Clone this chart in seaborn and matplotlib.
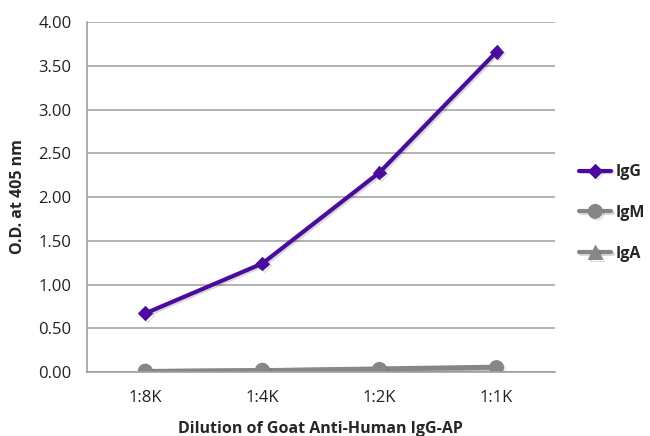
import matplotlib
matplotlib.use("Agg")
import matplotlib.pyplot as plt
import matplotlib.patheffects as pe
import seaborn as sns
import pandas as pd
import numpy as np

dilutions = ["1:8K", "1:4K", "1:2K", "1:1K"]
igg = [0.67, 1.24, 2.28, 3.66]
igm = [0.01, 0.02, 0.03, 0.05]
iga = [0.01, 0.02, 0.04, 0.06]
series_names = ["IgG", "IgM", "IgA"]
y_ticks = [0.0, 0.5, 1.0, 1.5, 2.0, 2.5, 3.0, 3.5, 4.0]

rows = []
for name, vals in zip(series_names, [igg, igm, iga]):
    for i, (d, v) in enumerate(zip(dilutions, vals)):
        rows.append({"Dilution": d, "pos": i, "OD": v, "Series": name})
df = pd.DataFrame(rows)

sns.set_style("white")
plt.rcParams["font.family"] = ["Open Sans", "DejaVu Sans"]

fig = plt.figure(figsize=(6.5, 4.36), dpi=100)
ax = fig.add_axes([0.1334, 0.1468, 0.854 - 0.1334, 0.9495 - 0.1468])

palette = {"IgG": "#4B0C9E", "IgM": "#868686", "IgA": "#868686"}
markers = {"IgG": "D", "IgM": "o", "IgA": "^"}
sizes_ = {"IgG": 7, "IgM": 10, "IgA": 10}

for name in ["IgA", "IgM", "IgG"]:
    sub = df[df["Series"] == name]
    sns.lineplot(data=sub, x="pos", y="OD", ax=ax, color=palette[name],
                 marker=markers[name], markersize=sizes_[name], linewidth=3,
                 markeredgecolor=palette[name], label=name, legend=False,
                 path_effects=[pe.SimpleLineShadow(offset=(1.2, -1.2), alpha=0.15),
                               pe.Normal()])

ax.set_xlim(-0.5, len(dilutions) - 0.5)
ax.set_ylim(0, 4.0)
ax.set_yticks(y_ticks)
ax.set_yticklabels([f"{t:.2f}" for t in y_ticks], fontsize=12, color="#222222")
ax.set_xticks(range(len(dilutions)))
ax.set_xticklabels(dilutions, fontsize=12, color="#222222")
ax.set_xticks(np.arange(-0.5, len(dilutions), 1.0), minor=True)
ax.tick_params(axis="x", which="major", length=0, pad=13)
ax.tick_params(axis="x", which="minor", length=5, color="#a0a0a0", direction="out")
ax.tick_params(axis="y", length=5, color="#a0a0a0", direction="out", pad=6)

ax.yaxis.grid(True, color="#a6a6a6", linewidth=1.2)
ax.set_axisbelow(True)
for s in ["top", "right"]:
    ax.spines[s].set_visible(False)
ax.spines["left"].set_color("#a0a0a0")
ax.spines["bottom"].set_color("#a0a0a0")
ax.spines["left"].set_linewidth(1.2)
ax.spines["bottom"].set_linewidth(1.2)

ax.set_ylabel("O.D. at 405 nm", fontsize=11.5, fontweight="bold", labelpad=9)
ax.set_xlabel("Dilution of Goat Anti-Human IgG-AP", fontsize=11.5, fontweight="bold", labelpad=11)

handles, labels = ax.get_legend_handles_labels()
order = [labels.index(n) for n in series_names]
leg = fig.legend([handles[i] for i in order], [labels[i] for i in order],
                 loc="center left", bbox_to_anchor=(0.874, 0.5115), frameon=False,
                 prop={"weight": "bold", "size": 11.5},
                 handlelength=2.0, handletextpad=0.25, labelspacing=1.55,
                 borderaxespad=0.3)

fig.savefig("out.png", dpi=100)
